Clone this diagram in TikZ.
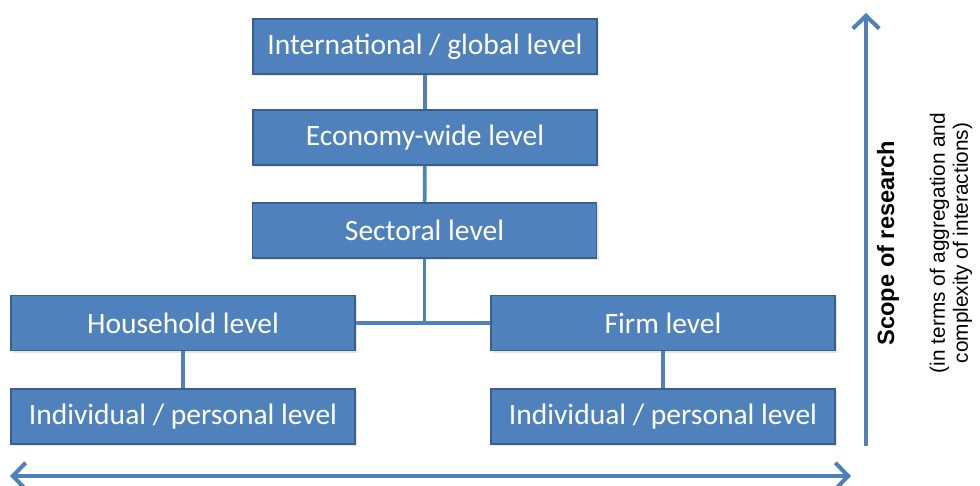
\documentclass[tikz,border=0pt]{standalone}
\usepackage{fontspec}
\setmainfont{Carlito}
\newfontfamily\scopefont{Liberation Sans}
\usetikzlibrary{arrows.meta,positioning,shadows}
\definecolor{levelfill}{HTML}{4F81BD}
\definecolor{levelborder}{HTML}{3A5F8C}
\definecolor{levelline}{HTML}{4F81BD}

\begin{document}
\begin{tikzpicture}[
  x=0.025cm,y=-0.025cm,
  levelbox/.style={draw=levelborder,fill=levelfill,line width=1.3pt,
    minimum width=8.6cm,minimum height=1.375cm,inner sep=0pt,
    text=white,font=\fontsize{21}{24}\selectfont,
    drop shadow={opacity=0.2,shadow xshift=1.5pt,shadow yshift=-1.5pt}},
  levellink/.style={draw=levelline,line width=2.6pt},
  scopearrow/.style={draw=levelline,line width=2.9pt,
    {Straight Barb[length=3.2mm,width=6.6mm]}-{Straight Barb[length=3.2mm,width=6.6mm]}},
  scopeup/.style={draw=levelline,line width=2.9pt,
    -{Straight Barb[length=3.2mm,width=6.6mm]}},
  scopetitle/.style={font=\scopefont\bfseries\fontsize{16.8}{20}\selectfont},
  scopenote/.style={font=\scopefont\fontsize{14.8}{16.5}\selectfont,align=center}
]
  \useasboundingbox (0,0) rectangle (980,486);
  \node[levelbox] (global) at (425,46.5) {International / global level};
  \node[levelbox] (economy) at (425,137.5) {Economy-wide level};
  \node[levelbox] (sectoral) at (424.5,230.5) {Sectoral level};
  \node[levelbox] (household) at (183,323) {Household level};
  \node[levelbox] (firm) at (663,323) {Firm level};
  \node[levelbox] (indleft) at (183,416.5) {Individual / personal level};
  \node[levelbox] (indright) at (663,416.5) {Individual / personal level};

  \coordinate (hub) at (sectoral.south |- household.east);
  \draw[levellink] (global) -- (economy);
  \draw[levellink] (economy) -- (sectoral);
  \draw[levellink] (sectoral) -- (hub);
  \draw[levellink] (household.east) -- (firm.west);
  \draw[levellink] (household) -- (indleft);
  \draw[levellink] (firm) -- (indright);

  % scope arrows
  \coordinate (spanleft) at (10,476);
  \coordinate (spanright) at (851,476);
  \coordinate (scopelow) at (866,446);
  \coordinate (scopehigh) at (866,13);
  \draw[scopearrow] (spanleft) -- (spanright);
  \draw[scopeup] (scopelow) -- (scopehigh);
  \node[scopetitle,rotate=90] (scopelabel) at (888,243) {Scope of research};
  \node[scopenote,rotate=90] (scopedetail) at (951,243)
    {(in terms of aggregation and\\complexity of interactions)};
\end{tikzpicture}
\end{document}
